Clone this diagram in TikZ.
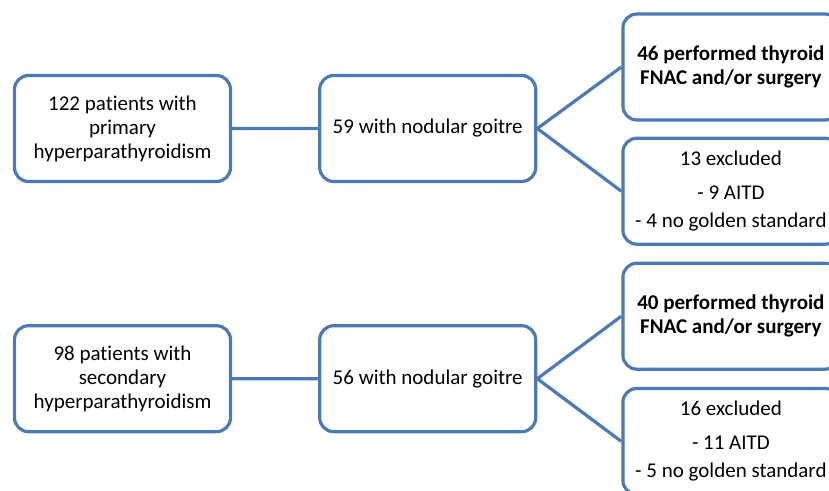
\documentclass[tikz,border=0pt]{standalone}
\usepackage{fontspec}
\setmainfont[Ligatures=NoCommon]{Carlito}
\usetikzlibrary{positioning}

\definecolor{boxblue}{RGB}{76,122,182}

\begin{document}
\begin{tikzpicture}[
    font=\fontsize{21}{24}\selectfont,
    line width=3.2pt,
    box/.style={draw=boxblue, fill=white, rounded corners=14pt,
        minimum width=216pt, minimum height=106pt,
        align=center, inner sep=2pt},
    link/.style={draw=boxblue}]

\clip (0pt,0pt) rectangle (829pt,-490pt);

% Primary hyperparathyroidism
\node[box] (prim) at (122.5pt,-128.5pt)
    {122 patients with\\primary\\hyperparathyroidism};

\node[box,
    right=86pt of prim
] (primgoitre) {59 with nodular goitre};

\node[box,
    right=84pt of primgoitre, yshift=61.5pt
] (primfnac) {\textbf{46 performed thyroid}\\\textbf{FNAC and/or surgery}};

\node[box,
    below=15pt of primfnac
] (primexcl) {13 excluded\\[10pt] - 9 AITD\\[4pt] - 4 no golden standard};

% Secondary hyperparathyroidism
\node[box,
    below=141pt of prim
] (sec) {98 patients with\\secondary\\hyperparathyroidism};

\node[box,
    right=86pt of sec
] (secgoitre) {56 with nodular goitre};

\node[box,
    right=84pt of secgoitre, yshift=62.5pt
] (secfnac) {\textbf{40 performed thyroid}\\\textbf{FNAC and/or surgery}};

\node[box,
    below=16pt of secfnac
] (secexcl) {16 excluded\\[10pt] - 11 AITD\\[4pt] - 5 no golden standard};

% Connectors
\draw[link] (prim) -- (primgoitre)
            (primgoitre.east) -- (primfnac.west)
            (primgoitre.east) -- (primexcl.west);

\draw[link] (sec) -- (secgoitre)
            (secgoitre.east) -- (secfnac.west)
            (secgoitre.east) -- (secexcl.west);

\end{tikzpicture}
\end{document}
